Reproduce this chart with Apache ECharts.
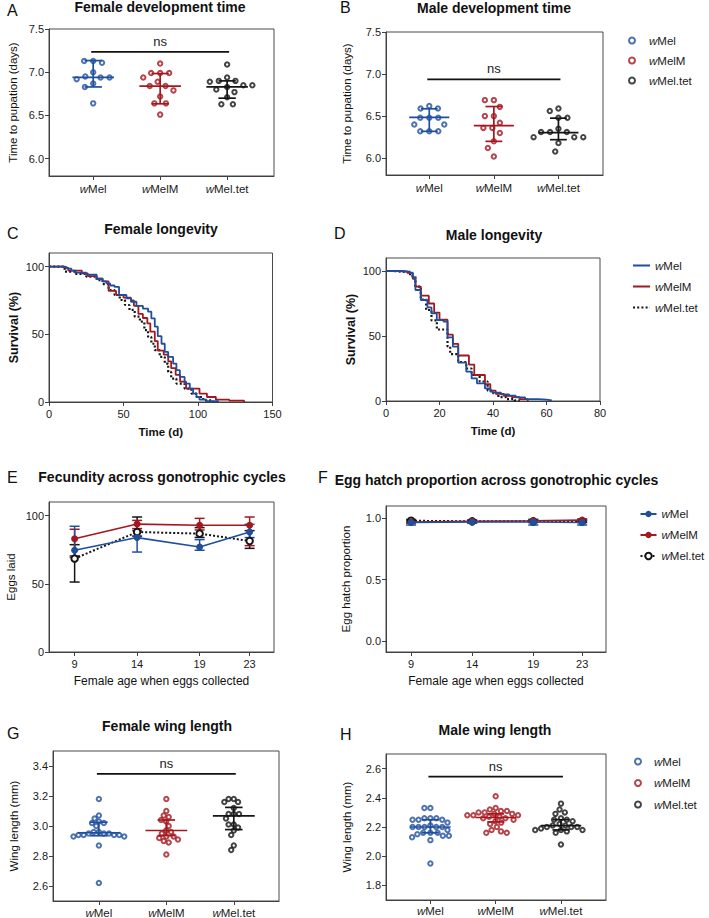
<!DOCTYPE html>
<html><head><meta charset="utf-8">
<script src="https://cdn.jsdelivr.net/npm/echarts@6/dist/echarts.min.js"></script>
<style>html,body{margin:0;padding:0;background:#fff}#c{width:709px;height:918px}</style>
</head><body><div id="c"></div>
<script>
// ---------------- DATA ----------------
const groups = ['wMel', 'wMelM', 'wMel.tet'];

// A: female development time (days)
const devF_wMel = [7.13, 7.13, 7.11, 7.00, 6.95, 6.94, 6.94, 6.92, 6.87, 6.83, 6.64];
const devF_wMelM = [7.10, 6.99, 6.99, 6.99, 6.94, 6.89, 6.84, 6.84, 6.79, 6.72, 6.64, 6.64, 6.51];
const devF_tet = [7.09, 6.94, 6.90, 6.90, 6.89, 6.85, 6.85, 6.83, 6.80, 6.77, 6.71, 6.63, 6.63];
const devF_center = [6.94, 6.84, 6.83];
const devF_lower = [6.83, 6.635, 6.70];
const devF_upper = [7.135, 6.985, 6.90];
const devF_ns = 7.235;

// B: male development time (days)
const devM_wMel = [6.62, 6.59, 6.59, 6.48, 6.48, 6.48, 6.40, 6.40, 6.32, 6.32, 6.32];
const devM_wMelM = [6.69, 6.69, 6.61, 6.50, 6.50, 6.42, 6.36, 6.36, 6.30, 6.20, 6.12, 6.02];
const devM_tet = [6.59, 6.56, 6.48, 6.48, 6.35, 6.31, 6.31, 6.31, 6.25, 6.25, 6.25, 6.18, 6.08];
const devM_center = [6.484, 6.386, 6.303];
const devM_lower = [6.319, 6.20, 6.22];
const devM_upper = [6.587, 6.614, 6.476];
const devM_ns = 6.937;

// C: female longevity (time d, survival %)
const fSurvT_wMel = [0, 9, 12, 15, 18, 25, 32, 36, 38.5, 41, 44, 47, 52, 55, 58.7, 63, 66.5, 68.7, 71, 73, 75.5, 77.7, 80, 83.3, 85.5, 87.8, 91, 94.5, 96.7, 99, 101, 105.7, 113.5];
const fSurvS_wMel = [100, 99.5, 98.5, 97, 95.5, 94, 91, 89, 87.6, 86, 85, 79, 76.5, 74, 71, 69, 66.7, 61.7, 55.6, 48.6, 43, 37, 33.3, 28.4, 23.5, 18.5, 13.6, 9.9, 6.2, 3.7, 1.7, 0.7, 0];
const fSurvT_wMelM = [0, 11, 13, 22, 26, 32, 36, 40, 45, 50, 55, 57, 60, 63, 66, 68, 71, 73, 77, 80, 82, 85, 88, 92, 101, 106, 112, 121, 131];
const fSurvS_wMelM = [100, 99, 97, 95, 93, 91, 89, 82, 79, 77, 75, 71, 65, 62, 58, 52, 45, 38, 35, 30, 25, 20, 15, 9.9, 6.2, 3.7, 1.7, 1, 0];
const fSurvT_tet = [0, 10.5, 18, 25, 32, 36, 40, 44, 47.5, 51, 54, 57.5, 61, 64, 66.5, 68.7, 71, 74.3, 77.7, 80, 82, 85.5, 91, 95.6, 99, 103.5, 110];
const fSurvS_tet = [100, 96.3, 94.6, 92.6, 90, 87, 82.7, 79, 75.3, 71.6, 68, 63, 59.3, 53, 48, 43, 38.3, 33.3, 28.4, 22.2, 17.3, 13.6, 9.9, 6.2, 3.7, 1.2, 0];

// D: male longevity
const mSurvT_wMel = [0, 5, 9, 10, 11, 13, 15.5, 17, 19, 21.5, 23, 25, 27, 30, 32, 34, 37, 39, 40, 43, 46, 48.5, 52, 57, 60, 62];
const mSurvS_wMel = [100, 99.5, 98.7, 95, 85.4, 77.7, 72, 67.4, 62.3, 61, 49, 41.8, 29.5, 22.6, 17.4, 13.6, 9.7, 7.2, 6.4, 5.1, 4.1, 2.8, 1.5, 1, 0.5, 0];
const mSurvT_wMelM = [0, 5, 8, 10, 11, 13, 16, 18, 20, 23, 25, 27, 31, 33, 37, 39, 41, 44, 47, 50, 53];
const mSurvS_wMelM = [100, 99.5, 98.5, 94, 88, 81, 75, 68, 62.5, 51, 44, 35, 28, 20, 13, 8, 5.5, 4, 3, 1.5, 0];
const mSurvT_tet = [0, 3, 6, 9, 11, 13, 15, 17, 19, 23, 24, 27, 30, 32, 35, 38, 40, 42, 45, 48, 50];
const mSurvS_tet = [100, 99.5, 99, 96, 88, 78, 70, 62, 55, 42, 36, 30, 25, 20, 15, 8, 6, 3, 1.5, 0.5, 0];

// E: fecundity (eggs laid) by female age
const ages = [9, 14, 19, 23];
const eggs_wMel = [74.6, 83.9, 77.0, 88.0];
const eggsLo_wMel = [69.5, 73.3, 74.6, 83.9];
const eggsHi_wMel = [92.2, 89.0, 82.4, 93.6];
const eggs_wMelM = [83.0, 93.8, 92.9, 92.9];
const eggsLo_wMelM = [70.5, 90.5, 89.5, 78.0];
const eggsHi_wMelM = [90.0, 96.5, 98.0, 99.0];
const eggs_tet = [68.5, 88.0, 86.8, 81.4];
const eggsLo_tet = [51.3, 85.0, 84.0, 76.0];
const eggsHi_tet = [78.7, 99.0, 91.2, 89.0];

// F: egg hatch proportion
const hatch_wMel = [0.965, 0.97, 0.97, 0.965];
const hatchLo_wMel = [0.945, 0.96, 0.945, 0.945];
const hatchHi_wMel = [0.985, 0.98, 0.99, 0.985];
const hatch_wMelM = [0.97, 0.975, 0.98, 0.985];
const hatchLo_wMelM = [0.96, 0.965, 0.97, 0.975];
const hatchHi_wMelM = [0.98, 0.985, 0.99, 0.995];
const hatch_tet = [0.98, 0.975, 0.975, 0.975];
const hatchLo_tet = [0.97, 0.965, 0.965, 0.965];
const hatchHi_tet = [0.99, 0.985, 0.985, 0.985];

// G: female wing length (mm)
const wingF_wMel = [3.18, 3.07, 3.05, 3.03, 3.02, 3.02, 3.00, 2.96, 2.96, 2.95, 2.95, 2.95, 2.94, 2.94, 2.94, 2.94, 2.93, 2.93, 2.87, 2.62];
const wingF_wMelM = [3.18, 3.10, 3.07, 3.06, 3.04, 3.03, 3.00, 2.97, 2.96, 2.95, 2.93, 2.93, 2.92, 2.91, 2.90, 2.89, 2.81];
const wingF_tet = [3.18, 3.18, 3.16, 3.16, 3.12, 3.08, 3.08, 3.08, 3.05, 3.01, 3.01, 2.99, 2.97, 2.94, 2.87, 2.84];
const wingF_center = [2.955, 2.97, 3.067];
const wingF_lower = [2.935, 2.936, 2.976];
const wingF_upper = [3.025, 3.04, 3.124];
const wingF_ns = 3.347;

// H: male wing length (mm)
const wingM_wMel = [2.33, 2.33, 2.26, 2.26, 2.26, 2.25, 2.25, 2.25, 2.23, 2.21, 2.20, 2.20, 2.20, 2.20, 2.20, 2.18, 2.16, 2.16, 2.16, 2.15, 2.14, 2.14, 2.13, 2.11, 1.95];
const wingM_wMelM = [2.41, 2.33, 2.32, 2.31, 2.31, 2.30, 2.30, 2.29, 2.29, 2.28, 2.28, 2.28, 2.27, 2.27, 2.26, 2.26, 2.25, 2.24, 2.23, 2.22, 2.20, 2.18, 2.17, 2.16, 2.16];
const wingM_tet = [2.36, 2.32, 2.30, 2.29, 2.26, 2.25, 2.25, 2.24, 2.22, 2.21, 2.21, 2.20, 2.20, 2.20, 2.19, 2.18, 2.18, 2.18, 2.17, 2.16, 2.08];
const wingM_center = [2.20, 2.265, 2.21];
const wingM_lower = [2.16, 2.235, 2.18];
const wingM_upper = [2.25, 2.29, 2.25];
const wingM_ns = 2.545;

// ---------------- STYLE / LAYOUT ----------------
const COLORS = ['#1f4f9c', '#a3171e', '#151515'];
const FONT = 'Liberation Sans, Arial, sans-serif';
const AX = '#404040';
const grids = [
  {left: 49, top: 29, width: 225, height: 147},   // A
  {left: 386, top: 32, width: 217, height: 143},  // B
  {left: 49, top: 253, width: 223.5, height: 149},// C
  {left: 386, top: 258, width: 214, height: 143}, // D
  {left: 49, top: 502, width: 225, height: 150},  // E
  {left: 386, top: 506, width: 220, height: 146}, // F
  {left: 53, top: 751, width: 226, height: 150},  // G
  {left: 386, top: 754, width: 220, height: 146}  // H
].map(g => Object.assign({show: true, borderColor: '#4a4a4a', borderWidth: 1, backgroundColor: 'transparent', outerBoundsMode: 'none', containLabel: false}, g));

const richI = {i: {fontStyle: 'italic', fontFamily: FONT, fontSize: 11.5, color: '#1a1a1a'}, n: {fontFamily: FONT, fontSize: 11.5, color: '#1a1a1a'}};
const groupLabel = g => '{i|w}{n|' + g.slice(1) + '}';

function axis(kind, gi, o) {
  return {
    type: 'value', gridIndex: gi, min: o.min, max: o.max,
    name: o.name || '', nameLocation: 'middle', nameGap: o.nameGap || 25,
    nameTextStyle: {fontFamily: FONT, fontSize: o.nameSize || 11.5, fontWeight: o.bold ? 'bold' : 'normal', color: '#111'},
    axisLine: {show: true, onZero: false, lineStyle: {color: AX, width: 1}},
    axisTick: {show: true, length: 4, customValues: o.ticks, lineStyle: {color: AX, width: 1}},
    axisLabel: {customValues: o.ticks, fontFamily: FONT, fontSize: o.labelSize || 11, color: '#1a1a1a',
      margin: o.margin || 5, formatter: o.fmt, rich: o.rich},
    splitLine: {show: false}
  };
}
const f1 = v => v.toFixed(1);
const catFmt = v => groupLabel(groups[Math.round(v)]);

const xAxes = [
  axis('x', 0, {min: -0.66, max: 2.70, ticks: [0, 1, 2], fmt: catFmt, rich: richI, margin: 7}),
  axis('x', 1, {min: -0.67, max: 2.69, ticks: [0, 1, 2], fmt: catFmt, rich: richI, margin: 7}),
  axis('x', 2, {min: 0, max: 150, ticks: [0, 50, 100, 150], name: 'Time (d)', bold: true, nameGap: 24, margin: 6}),
  axis('x', 3, {min: 0, max: 80, ticks: [0, 20, 40, 60, 80], name: 'Time (d)', bold: true, nameGap: 24, margin: 6}),
  axis('x', 4, {min: 6.95, max: 24.95, ticks: ages, name: 'Female age when eggs collected', nameSize: 12, nameGap: 23, margin: 6}),
  axis('x', 5, {min: 6.95, max: 24.95, ticks: ages, name: 'Female age when eggs collected', nameSize: 12, nameGap: 23, margin: 6}),
  axis('x', 6, {min: -0.68, max: 2.67, ticks: [0, 1, 2], fmt: catFmt, rich: richI, margin: 6}),
  axis('x', 7, {min: -0.68, max: 2.69, ticks: [0, 1, 2], fmt: catFmt, rich: richI, margin: 5})
];
const yAxes = [
  axis('y', 0, {min: 5.8, max: 7.5, ticks: [6, 6.5, 7, 7.5], fmt: f1, name: 'Time to pupation (days)', nameGap: 30}),
  axis('y', 1, {min: 5.8, max: 7.5, ticks: [6, 6.5, 7, 7.5], fmt: f1, name: 'Time to pupation (days)', nameGap: 33}),
  axis('y', 2, {min: 0, max: 110, ticks: [0, 50, 100], name: 'Survival (%)', bold: true, nameSize: 12.5, nameGap: 29}),
  axis('y', 3, {min: 0, max: 110, ticks: [0, 50, 100], name: 'Survival (%)', bold: true, nameSize: 12.5, nameGap: 29}),
  axis('y', 4, {min: 0, max: 110, ticks: [0, 50, 100], name: 'Eggs laid', nameGap: 32}),
  axis('y', 5, {min: -0.09, max: 1.1, ticks: [0, 0.5, 1], fmt: f1, name: 'Egg hatch proportion', nameGap: 34}),
  axis('y', 6, {min: 2.5, max: 3.5, ticks: [2.6, 2.8, 3.0, 3.2, 3.4], fmt: f1, name: 'Wing length (mm)', nameGap: 33}),
  axis('y', 7, {min: 1.7, max: 2.7, ticks: [1.8, 2.0, 2.2, 2.4, 2.6], fmt: f1, name: 'Wing length (mm)', nameGap: 33})
];

const series = [];
// summary (center + whisker) bars for dot plots
function summaryRender(params, api) {
  const x = api.value(0), c = api.value(1), lo = api.value(2), hi = api.value(3);
  const col = COLORS[x];
  const L = (a, b) => ({type: 'line', shape: {x1: a[0], y1: a[1], x2: b[0], y2: b[1]}, style: {stroke: col, lineWidth: 1.7}});
  return {type: 'group', children: [
    L(api.coord([x - 0.31, c]), api.coord([x + 0.31, c])),
    L(api.coord([x, lo]), api.coord([x, hi])),
    L(api.coord([x - 0.13, lo]), api.coord([x + 0.13, lo])),
    L(api.coord([x - 0.13, hi]), api.coord([x + 0.13, hi]))
  ]};
}
function nsRender(params, api) {
  const a = api.coord([api.value(0), api.value(2)]), b = api.coord([api.value(1), api.value(2)]);
  return {type: 'group', children: [
    {type: 'line', shape: {x1: a[0] - 2, y1: a[1], x2: b[0] + 2, y2: b[1]}, style: {stroke: '#111', lineWidth: 1.8}},
    {type: 'text', x: (a[0] + b[0]) / 2, y: a[1] - 4, style: {text: 'ns', font: '13px ' + FONT, fill: '#222', align: 'center', verticalAlign: 'bottom'}}
  ]};
}
const dotPanels = [
  {gi: 0, key: 'dev', vals: [devF_wMel, devF_wMelM, devF_tet], c: devF_center, lo: devF_lower, hi: devF_upper, ns: devF_ns, D: 9},
  {gi: 1, key: 'dev', vals: [devM_wMel, devM_wMelM, devM_tet], c: devM_center, lo: devM_lower, hi: devM_upper, ns: devM_ns, D: 9},
  {gi: 6, key: 'wing', vals: [wingF_wMel, wingF_wMelM, wingF_tet], c: wingF_center, lo: wingF_lower, hi: wingF_upper, ns: wingF_ns, D: 5.2},
  {gi: 7, key: 'wing', vals: [wingM_wMel, wingM_wMelM, wingM_tet], c: wingM_center, lo: wingM_lower, hi: wingM_upper, ns: wingM_ns, D: 6}
];
dotPanels.forEach(p => {
  groups.forEach((g, k) => {
    series.push({id: 'sc' + p.gi + '_' + k, name: p.key + ':' + g, type: 'scatter', xAxisIndex: p.gi, yAxisIndex: p.gi,
      symbol: 'emptyCircle', symbolSize: 4.4, itemStyle: {color: COLORS[k], borderColor: COLORS[k], borderWidth: 1.3},
      data: [], z: 3, silent: true, animation: false});
  });
  series.push({type: 'custom', name: 'sum' + p.gi, xAxisIndex: p.gi, yAxisIndex: p.gi, z: 4, silent: true,
    renderItem: summaryRender, encode: {x: 0, y: [1, 2, 3]},
    data: groups.map((g, k) => [k, p.c[k], p.lo[k], p.hi[k]])});
  series.push({type: 'custom', name: 'ns' + p.gi, xAxisIndex: p.gi, yAxisIndex: p.gi, z: 4, silent: true,
    renderItem: nsRender, encode: {x: [0, 1], y: 2}, data: [[0, 2, p.ns]]});
});

// survival step curves
const zip = (a, b) => a.map((v, i) => [v, b[i]]);
const survSets = [
  {gi: 2, T: [fSurvT_wMel, fSurvT_wMelM, fSurvT_tet], S: [fSurvS_wMel, fSurvS_wMelM, fSurvS_tet]},
  {gi: 3, T: [mSurvT_wMel, mSurvT_wMelM, mSurvT_tet], S: [mSurvS_wMel, mSurvS_wMelM, mSurvS_tet]}
];
survSets.forEach(s => {
  [2, 1, 0].forEach(k => {
    series.push({name: 'surv:' + groups[k], type: 'line', step: 'end', xAxisIndex: s.gi, yAxisIndex: s.gi,
      symbol: 'none', data: zip(s.T[k], s.S[k]), z: 3 + (2 - k), silent: true, animation: false,
      itemStyle: {color: COLORS[k]},
      lineStyle: {color: COLORS[k], width: k === 2 ? 2.2 : 1.8, type: k === 2 ? [2, 2.2] : 'solid'}});
  });
});

// fecundity & hatch lines with error bars
function errRender(params, api) {
  const x = api.value(0), lo = api.value(2), hi = api.value(3), k = api.value(4);
  const a = api.coord([x, lo]), b = api.coord([x, hi]);
  const col = COLORS[k];
  const L = (x1, y1, x2, y2) => ({type: 'line', shape: {x1, y1, x2, y2}, style: {stroke: col, lineWidth: 1.5}});
  return {type: 'group', children: [L(a[0], a[1], b[0], b[1]), L(a[0] - 5, a[1], a[0] + 5, a[1]), L(b[0] - 5, b[1], b[0] + 5, b[1])]};
}
const linePanels = [
  {gi: 4, M: [eggs_wMel, eggs_wMelM, eggs_tet], LO: [eggsLo_wMel, eggsLo_wMelM, eggsLo_tet], HI: [eggsHi_wMel, eggsHi_wMelM, eggsHi_tet]},
  {gi: 5, M: [hatch_wMel, hatch_wMelM, hatch_tet], LO: [hatchLo_wMel, hatchLo_wMelM, hatchLo_tet], HI: [hatchHi_wMel, hatchHi_wMelM, hatchHi_tet]}
];
linePanels.forEach(p => {
  [2, 1, 0].forEach(k => {
    series.push({type: 'custom', name: 'err' + p.gi + k, xAxisIndex: p.gi, yAxisIndex: p.gi, z: 2, silent: true,
      renderItem: errRender, encode: {x: 0, y: [1, 2, 3]},
      data: ages.map((a, i) => [a, p.M[k][i], p.LO[k][i], p.HI[k][i], k])});
    series.push({name: 'fec:' + groups[k], type: 'line', xAxisIndex: p.gi, yAxisIndex: p.gi,
      data: zip(ages, p.M[k]), symbol: k === 2 ? 'emptyCircle' : 'circle', symbolSize: k === 2 ? 6.5 : 7, showSymbol: true,
      z: 3 + (2 - k), silent: true, animation: false,
      itemStyle: {color: COLORS[k], borderColor: COLORS[k], borderWidth: k === 2 ? 1.1 : 0},
      lineStyle: {color: COLORS[k], width: k === 2 ? 2 : 1.6, type: k === 2 ? [2, 2] : 'solid'}});
  });
});

// legends
const legFmt = name => groupLabel(name.split(':')[1]);
const legText = {fontFamily: FONT, fontSize: 11.5, color: '#1a1a1a', rich: richI};
function legend(key, left, top, w, h, gap, extra) {
  return Object.assign({data: groups.map(g => key + ':' + g), orient: 'vertical', left, top, itemWidth: w, itemHeight: h,
    itemGap: gap, formatter: legFmt, textStyle: legText, selectedMode: false, padding: 0}, extra || {});
}
const legends = [
  legend('dev', 628, 34.5, 24, 6, 8),
  legend('surv', 632, 259.5, 17, 8, 9, {itemStyle: {opacity: 0}}),
  legend('fec', 639.5, 508, 16, 8, 9),
  legend('wing', 634, 755.5, 22, 6, 9.5)
];

// titles and panel letters
const T = (text, x, y, bold, size) => ({type: 'text', x, y, silent: true,
  style: {text, font: (bold ? 'bold ' : '') + size + 'px ' + FONT, fill: '#111', align: bold ? 'center' : 'left', verticalAlign: 'middle'}});
const graphics = [
  T('Female development time', 160, 6.5, true, 14),
  T('Male development time', 494, 8.3, true, 14),
  T('Female longevity', 161, 228.5, true, 14),
  T('Male longevity', 494, 235, true, 14),
  T('Fecundity across gonotrophic cycles', 162, 476.5, true, 14),
  T('Egg hatch proportion across gonotrophic cycles', 496.5, 480, true, 14),
  T('Female wing length', 167, 726, true, 14),
  T('Male wing length', 495, 730, true, 14),
  T('A', 7, 10.5, false, 16), T('B', 340, 7.5, false, 16),
  T('C', 7, 233, false, 16), T('D', 334, 233, false, 16),
  T('E', 7, 477.5, false, 16), T('F', 318, 477.5, false, 16),
  T('G', 7, 733, false, 16), T('H', 340, 734, false, 16)
];

const chart = echarts.init(document.getElementById('c'), null, {renderer: 'svg'});
chart.setOption({
  animation: false, backgroundColor: '#fff',
  textStyle: {fontFamily: FONT},
  grid: grids, xAxis: xAxes, yAxis: yAxes, series, legend: legends,
  graphic: {elements: graphics}
});

// beeswarm offsets computed from the axes' pixel scale
function swarm(vals, pxX, pxY, D) {
  const idx = vals.map((v, i) => i).sort((a, b) => vals[b] - vals[a]);
  const placed = [], out = new Array(vals.length);
  idx.forEach(i => {
    const y = vals[i] * pxY;
    const cands = [0];
    placed.forEach(p => {
      const dy = Math.abs(p.y - y);
      if (dy < D) { const dx = Math.sqrt(D * D - dy * dy); cands.push(p.x + dx + 0.01, p.x - dx - 0.01); }
    });
    cands.sort((a, b) => Math.abs(a) - Math.abs(b) || a - b);
    let chosen = 0;
    for (const c of cands) {
      if (placed.every(p => (p.x - c) * (p.x - c) + (p.y - y) * (p.y - y) >= D * D - 0.05)) { chosen = c; break; }
    }
    placed.push({x: chosen, y});
    out[i] = chosen / pxX;
  });
  return out;
}
const upd = [];
dotPanels.forEach(p => {
  const p0 = chart.convertToPixel({gridIndex: p.gi}, [0, 0]);
  const p1 = chart.convertToPixel({gridIndex: p.gi}, [1, 1]);
  const pxX = p1[0] - p0[0], pxY = p0[1] - p1[1];
  p.vals.forEach((arr, k) => {
    const off = swarm(arr, pxX, pxY, p.D);
    upd.push({id: 'sc' + p.gi + '_' + k, data: arr.map((v, i) => [k + off[i], v])});
  });
});
chart.setOption({series: upd});
</script></body></html>
